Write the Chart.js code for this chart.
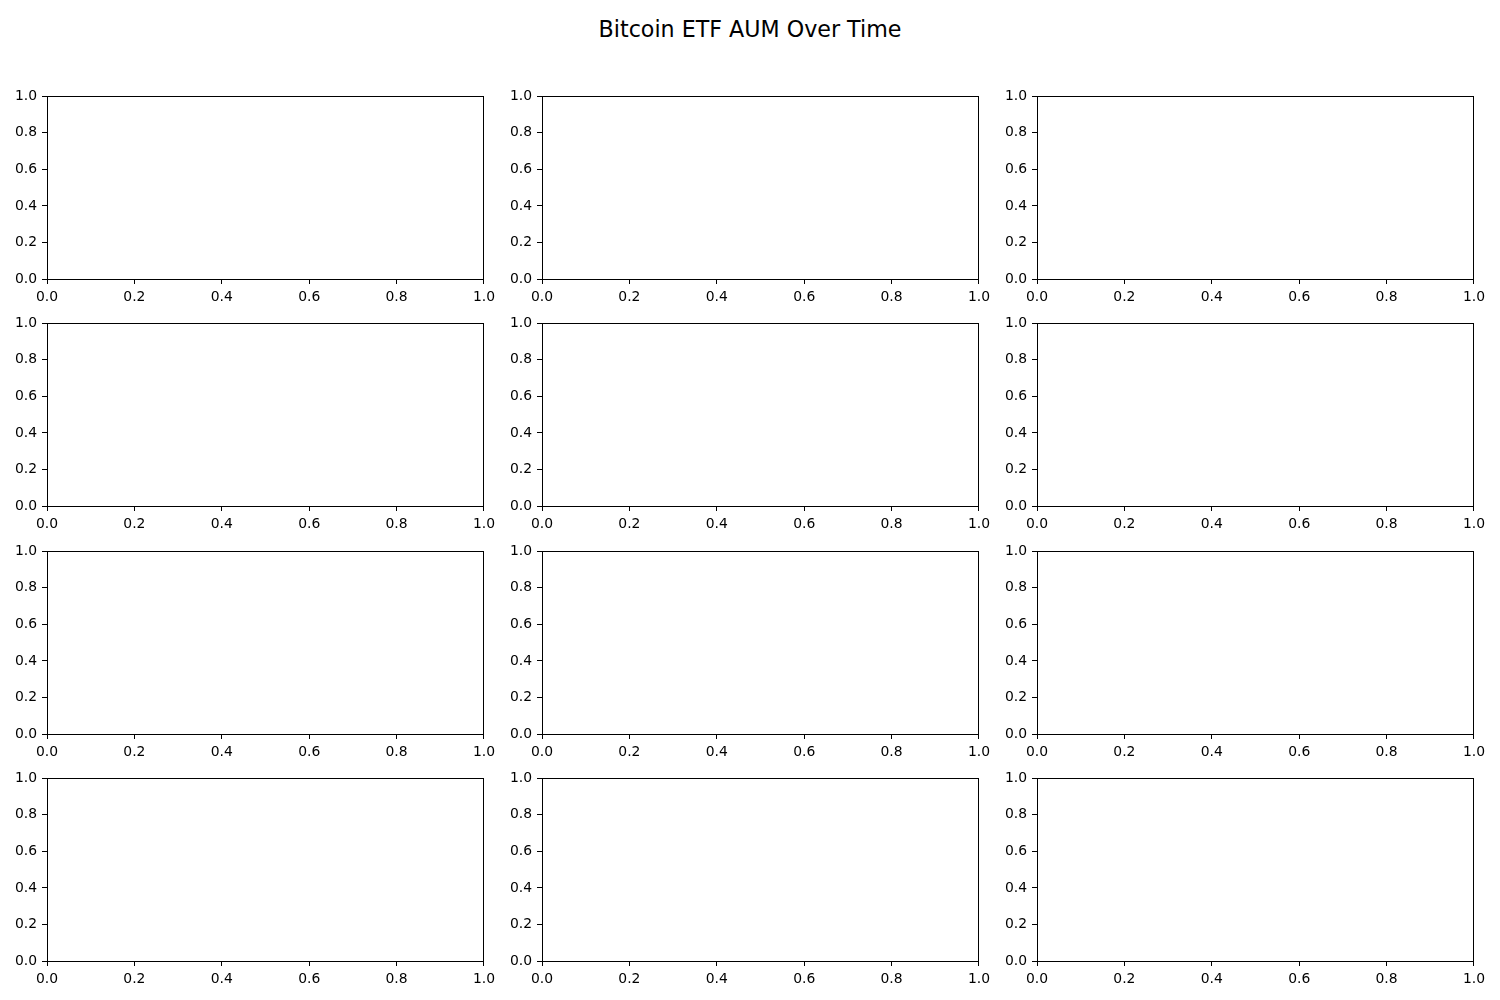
<!DOCTYPE html>
<html>
<head>
<meta charset="utf-8">
<script src="https://cdn.jsdelivr.net/npm/chart.js@4.4.1/dist/chart.umd.min.js"></script>
<style>
    body { margin: 0; background: #fff; width: 1500px; height: 1000px; position: relative; overflow: hidden; }
    #title { position: absolute; left: 0; top: 16px; width: 1500px; text-align: center; font-family: 'DejaVu Sans', sans-serif; font-size: 22.2px; line-height: 26px; color: #000; }
    canvas { position: absolute; }
</style>
</head>
<body>
<div id="title">Bitcoin ETF AUM Over Time</div>

<script>
// subplot grid (empty axes, default 0..1 limits)
const rowTops = [96, 323, 551, 778];
const colLefts = [47, 542, 1037];
const axisMin = 0;
const axisMax = 1;
const tickStep = 0.2;

const plotW = 437;
const plotH = 183;
const padLeft = 47, padTop = 10, padRight = 14, padBottom = 30;

const fontSpec = { family: "'DejaVu Sans', sans-serif", size: 13.9 };

const tickAxis = (position) => ({
    type: 'linear',
    position: position,
    min: axisMin, max: axisMax,
    ticks: { stepSize: tickStep, color: '#000', font: fontSpec, padding: 5, maxRotation: 0, autoSkip: false,
             callback: (v) => v.toFixed(1) },
    grid: { display: true, drawOnChartArea: false, drawTicks: true, tickLength: 5, color: '#000', lineWidth: 1 },
    border: { display: true, color: '#000', width: 1 },
    afterFit: (scale) => {
        if (position === 'left') scale.width = padLeft;
        else scale.height = padBottom;
    }
});

// top / right spines: border only
const spineAxis = (position, axis) => ({
    type: 'linear',
    position: position,
    axis: axis,
    min: axisMin, max: axisMax,
    ticks: { display: false },
    grid: { display: false, drawTicks: false },
    border: { display: true, color: '#000', width: 1 },
    afterFit: (scale) => {
        if (position === 'right') scale.width = 0;
        else scale.height = 0;
    }
});

rowTops.forEach((top) => {
    colLefts.forEach((left) => {
        const canvas = document.createElement('canvas');
        let w = padLeft + plotW + padRight;
        let h = padTop + plotH + padBottom;
        canvas.style.width = w + 'px';
        canvas.style.height = h + 'px';
        canvas.width = w;
        canvas.height = h;
        document.body.appendChild(canvas);

        const chart = new Chart(canvas.getContext('2d'), {
            type: 'line',
            data: { datasets: [] },
            options: {
                responsive: false, maintainAspectRatio: false, animation: false,
                layout: { padding: { top: padTop, right: padRight, left: 0, bottom: 0 } },
                plugins: { legend: { display: false }, tooltip: { enabled: false } },
                scales: {
                    x: tickAxis('bottom'),
                    y: tickAxis('left'),
                    x2: spineAxis('top', 'x'),
                    y2: spineAxis('right', 'y')
                }
            }
        });

        // grow the canvas so the plot area ends up plotW x plotH, then place it
        const area = chart.chartArea;
        w = Math.round(w + plotW - (area.right - area.left));
        h = Math.round(h + plotH - (area.bottom - area.top));
        chart.resize(w, h);
        const a2 = chart.chartArea;
        canvas.style.left = Math.round(left - a2.left) + 'px';
        canvas.style.top = Math.round(top - a2.top) + 'px';
    });
});
</script>
</body>
</html>
